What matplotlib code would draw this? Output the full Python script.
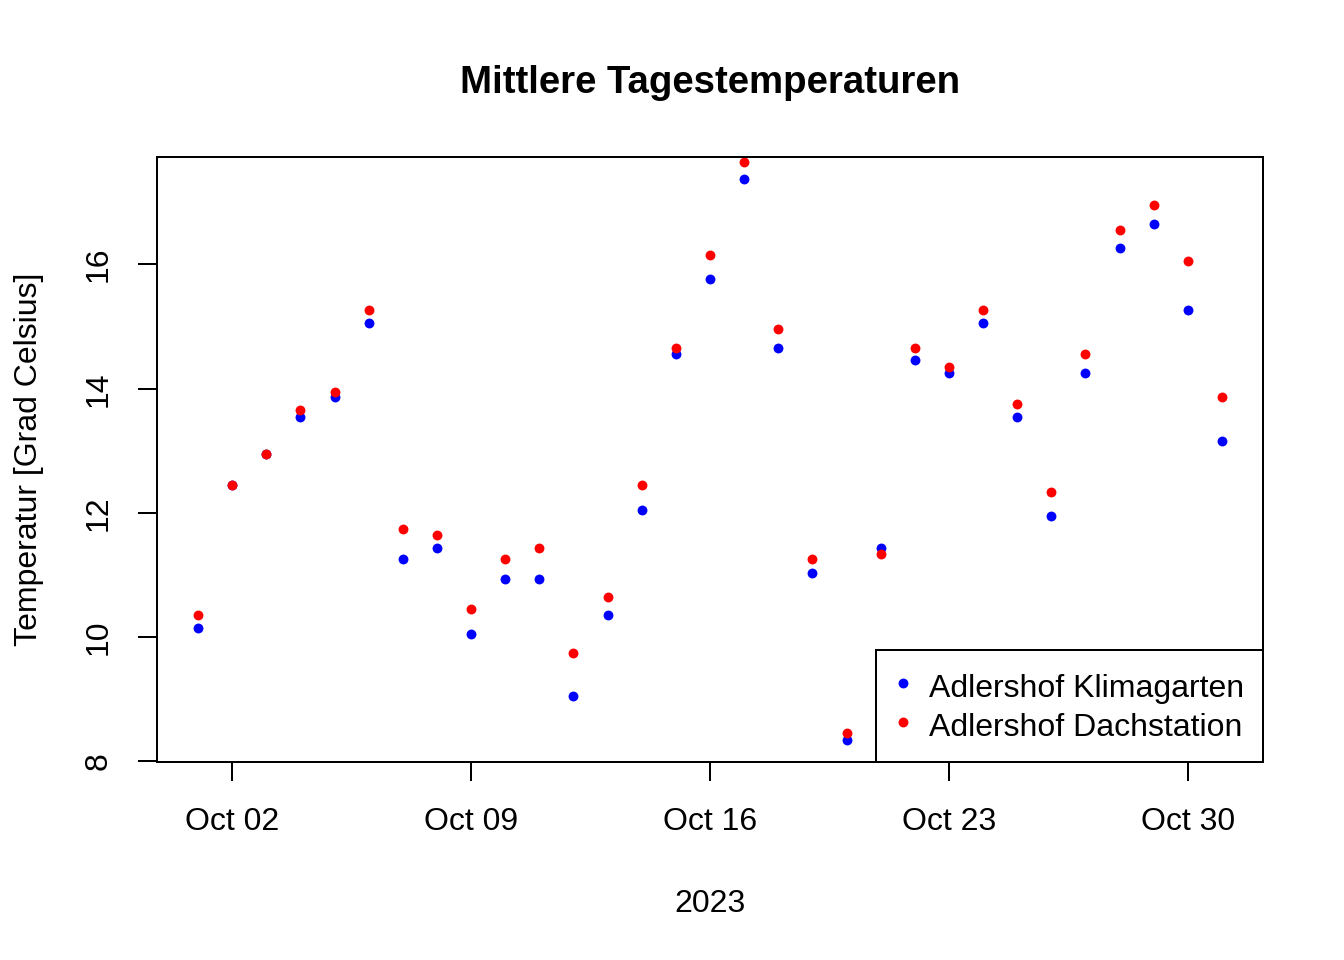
import numpy as np
import pandas as pd
import matplotlib
matplotlib.use("Agg")
import matplotlib.pyplot as plt
import matplotlib.dates as mdates

plt.rcParams['font.family'] = ['Liberation Sans', 'DejaVu Sans']

#%% Data
dates = pd.date_range("2023-10-01", "2023-10-31", freq="D")
klimagarten = [10.14, 12.45, 12.95, 13.55, 13.86, 15.05, 11.25, 11.44, 10.05, 10.94,
               10.94, 9.05, 10.35, 12.05, 14.56, 15.76, 17.37, 14.66, 11.04, 8.35,
               11.44, 14.47, 14.26, 15.05, 13.55, 11.95, 14.26, 16.26, 16.66, 15.26,
               13.15]
dachstation = [10.35, 12.45, 12.95, 13.66, 13.95, 15.26, 11.74, 11.65, 10.45, 11.25,
               11.44, 9.74, 10.64, 12.45, 14.66, 16.16, 17.65, 14.96, 11.25, 8.45,
               11.34, 14.66, 14.35, 15.26, 13.76, 12.34, 14.56, 16.56, 16.96, 16.05,
               13.86]
tick_dates = pd.to_datetime(["2023-10-02", "2023-10-09", "2023-10-16", "2023-10-23", "2023-10-30"])
y_ticks = [8, 10, 12, 14, 16]

#%% Plot
fig = plt.figure(figsize=(7, 5), dpi=192)
ax = fig.add_axes([157/1344, 1-762/960, (1263-157)/1344, (762-157)/960])

ax.plot(dates, klimagarten, "o", color="blue", markersize=3.7, markeredgewidth=0,
        label="Adlershof Klimagarten")
ax.plot(dates, dachstation, "o", color="red", markersize=3.7, markeredgewidth=0,
        label="Adlershof Dachstation")

# R style axis limits (4% padding, y range from first series)
xn = mdates.date2num(dates)
xpad = 0.04*(xn[-1]-xn[0])
ax.set_xlim(xn[0]-xpad, xn[-1]+xpad)
ymin, ymax = min(klimagarten), max(klimagarten)
ypad = 0.04*(ymax-ymin)
ax.set_ylim(ymin-ypad, ymax+ypad)

ax.set_xticks(mdates.date2num(tick_dates))
ax.set_xticklabels([d.strftime("%b %d") for d in tick_dates])
ax.set_yticks(y_ticks)
ax.set_yticklabels([str(v) for v in y_ticks], rotation=90, va="center")

for s in ax.spines.values():
    s.set_linewidth(0.75)
ax.tick_params(axis="both", length=7.2, width=0.75, labelsize=12)
ax.tick_params(axis="x", pad=9.5)
ax.tick_params(axis="y", pad=9)

ax.set_title("Mittlere Tagestemperaturen", fontsize=14.4, fontweight="bold", pad=24)
ax.set_xlabel("2023", fontsize=12, labelpad=19.5)
ax.set_ylabel("Temperatur [Grad Celsius]", fontsize=12, labelpad=15)

leg = ax.legend(loc="lower right", borderaxespad=0, fancybox=False, edgecolor="black",
                framealpha=1, fontsize=12, handlelength=0.5, handletextpad=0.55,
                handleheight=1.19, borderpad=0.6, labelspacing=0.16)
leg.get_frame().set_linewidth(0.75)

fig.savefig("out.png", dpi=192)
